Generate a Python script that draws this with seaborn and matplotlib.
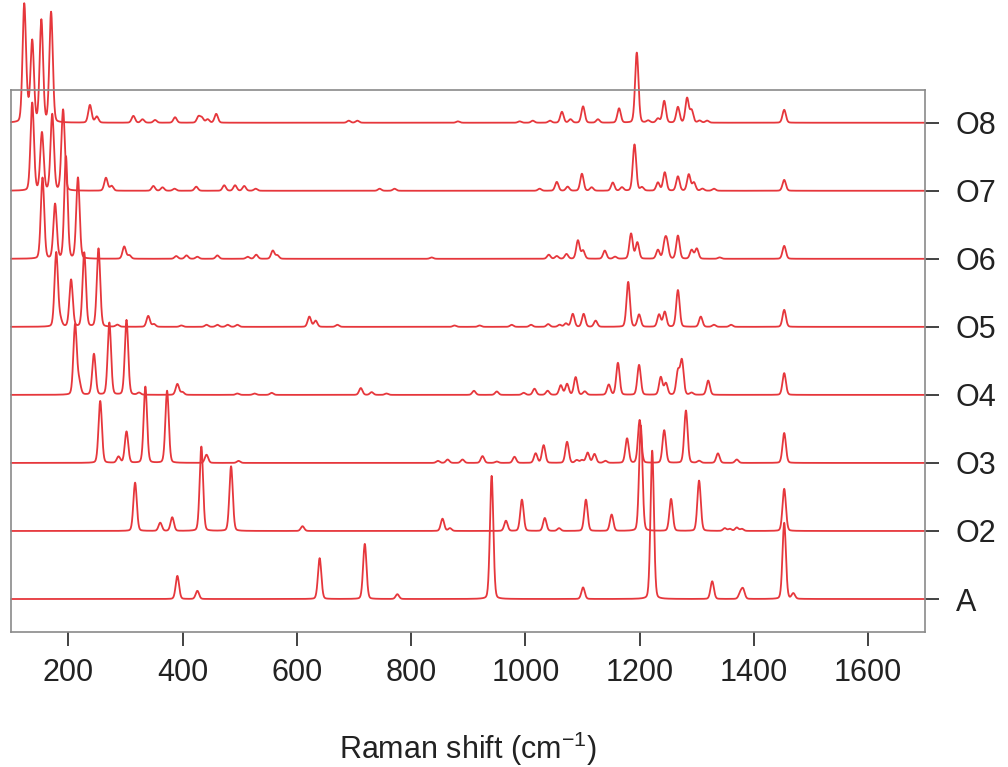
import numpy as np
import pandas as pd
import matplotlib.pyplot as plt
import seaborn as sns

sns.set_style("ticks")
plt.rcParams['font.family'] = ['Liberation Sans', 'DejaVu Sans']
plt.rcParams['mathtext.fontset'] = 'custom'
plt.rcParams['mathtext.rm'] = 'Liberation Sans'

samples = ['A', 'O2', 'O3', 'O4', 'O5', 'O6', 'O7', 'O8']

# peak positions (cm-1) and heights
a_pos = [391, 426, 640, 719, 776, 941, 1101, 1222, 1327, 1376, 1381, 1453, 1469]
a_int = [0.34, 0.12, 0.60, 0.81, 0.07, 1.81, 0.17, 2.18, 0.26, 0.08, 0.14, 1.12, 0.08]

o2_pos = [317, 361, 382, 433, 485, 610, 855, 868, 966, 994, 1034, 1059, 1106, 1151,
          1202, 1255, 1304, 1349, 1358, 1370, 1379, 1453]
o2_int = [0.71, 0.12, 0.20, 1.24, 0.95, 0.07, 0.18, 0.04, 0.15, 0.46, 0.19, 0.04, 0.46, 0.24,
          1.55, 0.47, 0.74, 0.04, 0.03, 0.05, 0.03, 0.62]

o3_pos = [256, 288, 302, 335, 373, 442, 498, 847, 864, 890, 925, 950, 981, 1018, 1032, 1073,
          1090, 1099, 1109, 1121, 1140, 1178, 1200, 1243, 1281, 1304, 1337, 1370, 1453]
o3_int = [0.91, 0.09, 0.46, 1.12, 1.06, 0.12, 0.03, 0.03, 0.05, 0.05, 0.10, 0.02, 0.09, 0.14, 0.26, 0.31,
          0.04, 0.04, 0.15, 0.13, 0.03, 0.36, 0.63, 0.48, 0.77, 0.03, 0.14, 0.05, 0.44]

o4_pos = [212, 219, 245, 272, 302, 324, 391, 400, 496, 526, 556, 712, 731, 757, 910, 950, 997,
          1016, 1039, 1062, 1073, 1088, 1104, 1146, 1162, 1199, 1237, 1246, 1267, 1274, 1291,
          1320, 1453]
o4_int = [1.03, 0.18, 0.60, 1.06, 1.10, 0.03, 0.16, 0.04, 0.02, 0.02, 0.03, 0.10, 0.04, 0.02, 0.06, 0.05, 0.03,
          0.09, 0.06, 0.14, 0.16, 0.26, 0.05, 0.15, 0.47, 0.44, 0.26, 0.17, 0.34, 0.50, 0.03,
          0.21, 0.32]

o5_pos = [179, 186, 205, 228, 253, 286, 340, 350, 398, 442, 461, 479, 496, 622, 633, 671, 876,
          920, 976, 1010, 1040, 1060, 1071, 1083, 1102, 1123, 1180, 1199, 1234, 1244, 1267, 1307,
          1330, 1360, 1453]
o5_int = [1.09, 0.10, 0.69, 1.09, 1.15, 0.03, 0.16, 0.04, 0.02, 0.03, 0.03, 0.03, 0.03, 0.15, 0.09, 0.03, 0.02,
          0.02, 0.03, 0.03, 0.04, 0.03, 0.05, 0.19, 0.19, 0.09, 0.66, 0.18, 0.18, 0.22, 0.54, 0.15,
          0.03, 0.03, 0.25]

o6_pos = [155, 177, 196, 217, 298, 307, 389, 407, 426, 461, 514, 529, 558, 566, 836, 1041, 1055,
          1072, 1092, 1101, 1139, 1157, 1185, 1196, 1232, 1244, 1248, 1267, 1291, 1300, 1340, 1453]
o6_int = [1.19, 0.80, 1.50, 1.19, 0.18, 0.05, 0.04, 0.05, 0.03, 0.05, 0.03, 0.06, 0.12, 0.05, 0.02, 0.06, 0.04,
          0.07, 0.27, 0.12, 0.12, 0.03, 0.37, 0.24, 0.13, 0.22, 0.20, 0.34, 0.13, 0.15, 0.02, 0.19]

o7_pos = [137, 154, 172, 191, 266, 276, 349, 365, 386, 424, 473, 492, 508, 528, 745, 771, 1025,
          1055, 1074, 1099, 1116, 1153, 1169, 1191, 1204, 1232, 1244, 1267, 1286, 1295, 1310, 1330,
          1453]
o7_int = [1.29, 0.85, 1.12, 1.19, 0.19, 0.07, 0.07, 0.05, 0.03, 0.06, 0.08, 0.08, 0.07, 0.03, 0.03, 0.03, 0.03,
          0.13, 0.06, 0.25, 0.05, 0.12, 0.05, 0.68, 0.05, 0.12, 0.27, 0.21, 0.24, 0.12, 0.03, 0.03,
          0.16]

o8_pos = [123, 129, 137, 153, 170, 238, 250, 314, 330, 352, 387, 428, 434, 444, 459, 691, 706, 882,
          990, 1013, 1043, 1064, 1079, 1101, 1127, 1164, 1195, 1215, 1232, 1243, 1267, 1283, 1291,
          1305, 1318, 1453]
o8_int = [1.72, 0.15, 1.19, 1.50, 1.62, 0.26, 0.09, 0.10, 0.05, 0.04, 0.08, 0.09, 0.07, 0.05, 0.13, 0.03, 0.03, 0.02,
          0.02, 0.03, 0.03, 0.16, 0.05, 0.24, 0.05, 0.21, 1.03, 0.03, 0.06, 0.32, 0.23, 0.36, 0.18,
          0.03, 0.03, 0.19]

peaks = {
    'A': (a_pos, a_int), 'O2': (o2_pos, o2_int), 'O3': (o3_pos, o3_int), 'O4': (o4_pos, o4_int),
    'O5': (o5_pos, o5_int), 'O6': (o6_pos, o6_int), 'O7': (o7_pos, o7_int), 'O8': (o8_pos, o8_int),
}

# each spectrum = sum of pseudo-Voigt bands, stacked with unit offsets
shift = np.arange(100, 1700.5, 0.5)
fwhm = 7.0
sig = fwhm / 2.355
frac_l = 0.15
frames = []
for i, name in enumerate(samples):
    pos, inten = peaks[name]
    y = np.zeros_like(shift)
    for p, h in zip(pos, inten):
        d = shift - p
        g = np.exp(-0.5 * (d / sig) ** 2)
        l = 1 / (1 + (2 * d / fwhm) ** 2)
        y += h * ((1 - frac_l) * g + frac_l * l)
    frames.append(pd.DataFrame({'shift': shift, 'intensity': y + i, 'sample': name}))
df = pd.concat(frames, ignore_index=True)

red = '#e6373c'
fig, ax = plt.subplots(figsize=(10.08, 7.67), dpi=100)
fig.subplots_adjust(left=0.011, right=0.918, bottom=0.176, top=0.883)

sns.lineplot(data=df, x='shift', y='intensity', hue='sample', palette={s: red for s in samples},
             estimator=None, sort=False, legend=False, linewidth=1.3, clip_on=False, ax=ax)

ax.set_xlim(100, 1700)
ax.set_ylim(-0.485, 7.485)
ax.set_xticks(range(200, 1601, 200))
ax.yaxis.tick_right()
ax.set_yticks(range(len(samples)))
ax.set_yticklabels(samples)

ax.tick_params(axis='x', direction='out', length=10, width=1.2, color='#222222', pad=9,
               labelsize=22, labelcolor='#222222')
ax.tick_params(axis='y', direction='out', length=10, width=1.2, color='#222222', pad=12,
               labelsize=22, labelcolor='#222222', left=False, right=True)

for sp in ax.spines.values():
    sp.set_color('#8a8a8a')
    sp.set_linewidth(1.2)

ax.set_xlabel('Raman shift (cm$^{\\mathregular{-1}}$)', fontsize=22, color='#222222', labelpad=30)
ax.set_ylabel('')

fig.savefig('out.png', dpi=100)
